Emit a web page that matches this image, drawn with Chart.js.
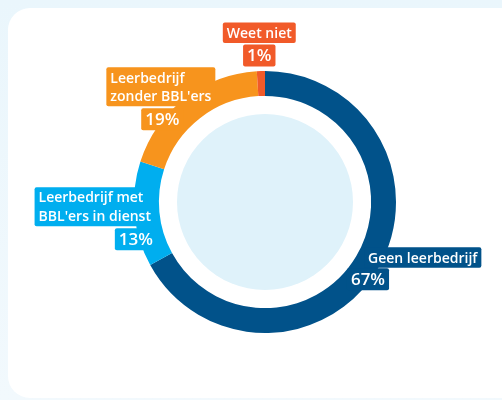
<!DOCTYPE html>
<html lang="nl">
<head>
<meta charset="UTF-8">
<title>Leerbedrijf</title>
<script src="https://cdn.jsdelivr.net/npm/chart.js"></script>
<style>
    html, body {
        margin: 0;
        padding: 0;
        width: 502px;
        height: 400px;
        overflow: hidden;
        background: linear-gradient(180deg, #eaf6fc 0%, #f2f9fd 100%);
    }
    .card {
        position: absolute;
        left: 8px;
        top: 8px;
        width: 520px;
        height: 390px;
        background: #ffffff;
        border-radius: 22px;
    }
    .wrap {
        position: absolute;
        left: 0;
        top: 0;
        width: 502px;
        height: 400px;
    }
</style>
</head>
<body>
<div class="card"></div>
<div class="wrap"><canvas id="donut" width="502" height="400"></canvas></div>

<script>
// data
var categories = ['Geen leerbedrijf', "Leerbedrijf met BBL'ers in dienst", "Leerbedrijf zonder BBL'ers", 'Weet niet'];
var labelLines = [['Geen leerbedrijf'], ['Leerbedrijf met', "BBL'ers in dienst"], ['Leerbedrijf', "zonder BBL'ers"], ['Weet niet']];
var percentages = [67, 13, 19, 1];
var colors = ['#01528a', '#00aeef', '#f7941d', '#f15a29'];

// where the boxes sit relative to the middle of each arc (title box, percent box)
var boxPlace = [
    { title: { dx: -3, dy: -15, align: 'left' },   pct: { dx: 22, dy: 6, align: 'right' } },
    { title: { dx: 8, dy: -26, align: 'right' },   pct: { dx: 10, dy: 15, align: 'right' } },
    { title: { dx: 23, dy: -41, align: 'right' },  pct: { dx: -9, dy: 0, align: 'right' } },
    { title: { dx: -2, dy: -61, align: 'center' }, pct: { dx: -2, dy: -39, align: 'center' } }
];

var innerDisc = {
    id: 'innerDisc',
    beforeDatasetsDraw: function(chart) {
        var arc = chart.getDatasetMeta(0).data[0];
        if (!arc) return;
        var ctx = chart.ctx;
        ctx.save();
        ctx.fillStyle = '#dff2fa';
        ctx.beginPath();
        ctx.arc(arc.x, arc.y, 88, 0, Math.PI * 2);
        ctx.fill();
        ctx.restore();
    }
};

function drawBox(ctx, lines, font, lineH, x, y, align, color) {
    ctx.font = font;
    var w = 0;
    for (var i = 0; i < lines.length; i++) {
        w = Math.max(w, ctx.measureText(lines[i]).width);
    }
    var padX = 4, padY = 1;
    var bw = w + padX * 2;
    var bh = lines.length * lineH + padY * 2;
    var left = x;
    if (align === 'right') left = x - bw;
    if (align === 'center') left = x - bw / 2;
    ctx.fillStyle = color;
    ctx.beginPath();
    ctx.roundRect(left, y, bw, bh, 2);
    ctx.fill();
    ctx.fillStyle = '#ffffff';
    ctx.textBaseline = 'middle';
    ctx.textAlign = 'left';
    for (var j = 0; j < lines.length; j++) {
        ctx.fillText(lines[j], left + padX, y + padY + lineH * j + lineH / 2 + 1);
    }
}

var boxLabels = {
    id: 'boxLabels',
    afterDatasetsDraw: function(chart) {
        var ctx = chart.ctx;
        var meta = chart.getDatasetMeta(0);
        ctx.save();
        meta.data.forEach(function(arc, i) {
            var mid = (arc.startAngle + arc.endAngle) / 2;
            var r = (arc.innerRadius + arc.outerRadius) / 2;
            var px = arc.x + Math.cos(mid) * r;
            var py = arc.y + Math.sin(mid) * r;
            var p = boxPlace[i];
            drawBox(ctx, labelLines[i], '600 14px "Open Sans"', 18.5,
                px + p.title.dx, py + p.title.dy, p.title.align, colors[i]);
            drawBox(ctx, [percentages[i] + '%'], '600 17px "Open Sans"', 20,
                px + p.pct.dx, py + p.pct.dy, p.pct.align, colors[i]);
        });
        ctx.restore();
    }
};

new Chart(document.getElementById('donut').getContext('2d'), {
    type: 'doughnut',
    data: {
        labels: categories,
        datasets: [{
            data: percentages,
            backgroundColor: colors,
            borderWidth: 0
        }]
    },
    options: {
        responsive: false,
        animation: false,
        cutout: '81%',
        layout: {
            padding: { top: 71, bottom: 67, left: 134, right: 106 }
        },
        plugins: {
            legend: { display: false },
            tooltip: { enabled: false }
        }
    },
    plugins: [innerDisc, boxLabels]
});
</script>
</body>
</html>
